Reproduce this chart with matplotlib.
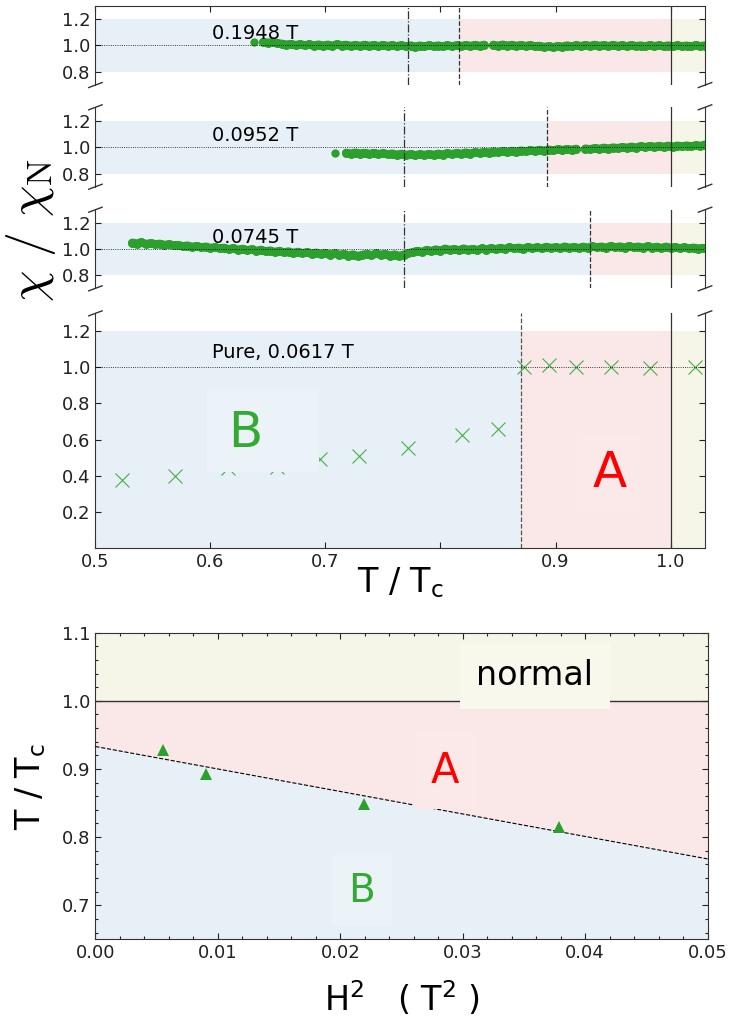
import numpy as np
import matplotlib
matplotlib.use('Agg')
from matplotlib import pyplot as plt
from matplotlib.patches import Rectangle
from matplotlib.ticker import MultipleLocator

# ---- susceptibility sweeps, chi/chi_N against T/Tc --------------------------
field_labels = ['0.1948 T', '0.0952 T', '0.0745 T']

# 0.1948 T sweep (temperature grid start/stop, values on that grid)
t_1948 = (0.646, 1.030)
chi_1948 = [1.026, 1.020, 1.024, 1.016, 1.012, 1.006, 1.010, 1.002, 1.008, 1.000,
            1.007, 0.999, 1.006, 0.998, 1.005, 0.997, 1.008, 0.999, 1.004, 0.996,
            1.003, 0.995, 1.004, 0.996, 1.002, 0.994, 1.003, 0.995, 1.001, 0.993,
            1.000, 0.992, 0.999, 0.991, 0.998, 0.992, 1.000, 0.993, 0.999, 0.992,
            1.001, 0.993, 1.000, 0.994, 1.002, 0.995, 1.003, 0.996, 1.004, np.nan,
            1.004, 0.997, 1.005, 0.998, 1.003, 0.996, 1.002, 0.995, 1.001, 0.993,
            0.996, 0.988, 0.993, 0.986, 0.995, 0.990, 0.999, 0.992, 1.001, 0.994,
            1.002, 0.995, 1.004, 0.996, 1.001, 0.994, 1.003, 0.995, 1.000, 0.993,
            1.002, 0.994, 0.999, 0.992, 1.001, 0.994, 1.000, 0.993, 0.999, 0.992,
            1.000, 0.993, 0.998, 0.992, 1.001, 0.994, 0.999]
first_1948 = (0.638, 1.025)

# 0.0952 T sweep
t_0952 = (0.718, 1.030)
chi_0952 = [0.956, 0.950, 0.958, 0.951, 0.955, 0.948, 0.954, 0.947, 0.952, 0.945,
            0.950, 0.942, 0.948, 0.940, 0.946, 0.938, 0.944, 0.940, 0.947, 0.941,
            0.949, 0.943, 0.952, 0.946, 0.955, 0.948, 0.958, 0.951, 0.960, 0.954,
            0.963, 0.957, 0.966, 0.960, 0.968, 0.962, 0.970, 0.965, 0.973, 0.967,
            0.975, 0.970, 0.978, 0.972, 0.980, 0.974, 0.982, 0.977, 0.984, 0.979,
            0.986, np.nan, 0.988, 0.983, 0.991, 0.986, 0.994, 0.988, 0.996, 0.991,
            0.999, 0.994, 1.002, 0.996, 1.005, 0.999, 1.007, 1.001, 1.008, 1.002,
            1.009, 1.003, 1.010, 1.004, 1.011, 1.005, 1.012, 1.008, 1.018]
first_0952 = (0.7085, 0.952)

# 0.0745 T sweep
t_0745 = (0.532, 1.028)
chi_0745 = [1.048, 1.042, 1.050, 1.038, 1.044, 1.036, 1.040, 1.031, 1.035, 1.027,
            1.030, 1.021, 1.026, 1.017, 1.022, 1.012, 1.018, 1.008, 1.013, 1.004,
            1.009, 0.998, 1.006, 0.994, 1.001, 0.990, 0.997, 0.986, 0.993, 0.982,
            0.988, 0.977, 0.985, 0.974, 0.981, 0.970, 0.978, 0.968, 0.975, 0.965,
            0.972, 0.962, 0.969, 0.958, 0.966, 0.955, 0.962, 0.950, 0.958, 0.946,
            0.955, 0.962, 0.952, 0.966, 0.956, 0.962, 0.950, 0.958, 0.948, 0.956,
            0.968, 0.976, 0.985, 0.978, 0.992, 0.984, 0.996, 0.988, 1.002, 0.993,
            0.999, 0.990, 1.003, 0.994, 1.000, 0.992, 1.004, 0.996, 1.006, 0.998,
            1.008, 1.001, 1.012, 1.004, 1.010, 1.002, 1.014, 1.006, 1.012, 1.005,
            1.016, 1.008, 1.013, 1.006, 1.018, 1.009, 1.015, 1.007, 1.017, 1.010,
            1.020, 1.012, 1.018, 1.010, 1.022, 1.013, 1.019, 1.011, 1.021, 1.012,
            1.018, 1.010, 1.020, 1.011, 1.016, 1.008, 1.017, 1.009, 1.014, 1.006,
            1.012, 1.004, 1.010, 1.003, 1.008]

# transitions seen in each sweep (dash-dot / A-B boundary)
t_dashdot = [0.772, 0.768, 0.768]
t_ab = [0.816, 0.893, 0.930]

# pure sample, 0.0617 T
pure_t = [0.5235, 0.569, 0.615, 0.658, 0.695, 0.729, 0.772, 0.819, 0.850,
          0.873, 0.894, 0.918, 0.948, 0.982, 1.021]
pure_chi = [0.378, 0.396, 0.44, 0.45, 0.49, 0.51, 0.555, 0.623, 0.656,
            1.002, 1.013, 1.0, 1.0, 0.998, 1.0]
pure_ab = 0.870

# ---- phase diagram ---------------------------------------------------------
h2 = [0.00555, 0.00906, 0.0219, 0.0379]
tab_h2 = [0.928, 0.893, 0.848, 0.815]
fit_h2 = [0.0, 0.05]
fit_t = [0.933, 0.768]

blue = '#e8f0f7'
red = '#fae7e7'
yellow = '#f6f6e8'
blue_box = '#ebf2f8'
red_box = '#fbe9e9'
yellow_box = '#f8f8ec'
green = '#2ca02c'
line_c = '#333333'

plt.rcParams['font.family'] = 'DejaVu Sans'
fig = plt.figure(figsize=(7.3, 10.21), dpi=100)

L, W = 0.1307, 0.8351
ax1 = fig.add_axes([L, 0.9167, W, 0.0777])
ax2 = fig.add_axes([L, 0.8171, W, 0.0778])
ax3 = fig.add_axes([L, 0.7176, W, 0.0770])
ax4 = fig.add_axes([L, 0.4636, W, 0.2295])
ax5 = fig.add_axes([L, 0.0800, 0.8386, 0.3003])
panels = [ax1, ax2, ax3, ax4]


def shade(ax, ta, lo, hi):
    ax.fill_between([0.5, ta], lo, hi, color=blue, lw=0, zorder=0)
    ax.fill_between([ta, 1.0], lo, hi, color=red, lw=0, zorder=0)
    ax.fill_between([1.0, 1.03], lo, hi, color=yellow, lw=0, zorder=0)


def breaks(ax, top, bottom):
    h = ax.get_position().height * fig.get_figheight() * fig.dpi
    dx, dy = 0.011, 2.5 / h
    kw = dict(transform=ax.transAxes, color=line_c, lw=1, clip_on=False)
    if bottom:
        ax.plot((-dx, dx), (-dy, dy), **kw)
        ax.plot((1 - dx, 1 + dx), (-dy, dy), **kw)
    if top:
        ax.plot((-dx, dx), (1 - dy, 1 + dy), **kw)
        ax.plot((1 - dx, 1 + dx), (1 - dy, 1 + dy), **kw)


sweeps = [(t_1948, chi_1948, first_1948),
          (t_0952, chi_0952, first_0952),
          (t_0745, chi_0745, None)]

for i, ax in enumerate(panels[:3]):
    (t0, t1), chi, first = sweeps[i]
    t = np.linspace(t0, t1, len(chi))
    shade(ax, t_ab[i], 0.8, 1.2)
    # dense sweep: solid core plus the individual readings round it
    ax.plot(t, chi, '-', color=green, lw=6, solid_capstyle='round', zorder=2)
    ax.plot(t, chi, 'o', color=green, ms=6.5, mew=0, zorder=2)
    if first is not None:
        ax.plot(*first, 'o', color=green, ms=6, mew=0, zorder=2)
    ax.axhline(1.0, color='k', ls=':', lw=0.6, zorder=4)
    ax.axvline(t_dashdot[i], color=line_c, ls='-.', lw=0.9, zorder=3)
    ax.axvline(t_ab[i], color=line_c, ls='--', lw=0.9, zorder=3)
    ax.axvline(1.0, color=line_c, ls='-', lw=0.9, zorder=3)
    ax.text(0.601, 1.045, field_labels[i], fontsize=14, va='baseline', zorder=5)
    ax.set_ylim(0.7, 1.3)
    ax.set_yticks([0.8, 1.0, 1.2])
    ax.spines['bottom'].set_visible(False)
    if i > 0:
        ax.spines['top'].set_visible(False)
        ax.tick_params(axis='x', which='both', top=False, bottom=False,
                       labelbottom=False)
    else:
        ax.tick_params(axis='x', which='both', top=True, bottom=False,
                       labelbottom=False)
    breaks(ax, top=(i > 0), bottom=True)

# pure sample
shade(ax4, pure_ab, 0.0, 1.2)
ax4.plot(pure_t, pure_chi, 'x', color='#44b044', ms=10, mew=0.8, zorder=2)
ax4.axhline(1.0, color='k', ls=':', lw=0.6, zorder=4)
ax4.axvline(pure_ab, color='#555555', ls='--', lw=0.9, zorder=3)
ax4.axvline(1.0, color=line_c, ls='-', lw=0.9, zorder=3)
ax4.text(0.601, 1.05, 'Pure, 0.0617 T', fontsize=14, va='baseline', zorder=5)
ax4.add_patch(Rectangle((0.597, 0.42), 0.097, 0.46, facecolor=blue_box,
                        edgecolor='none', zorder=3))
ax4.text(0.630, 0.558, 'B', fontsize=36, color='#33aa33', ha='center',
         va='baseline', zorder=5)
ax4.text(0.947, 0.335, 'A', fontsize=36, color='red', ha='center',
         va='baseline', zorder=5,
         bbox=dict(facecolor=red_box, edgecolor='none', pad=10))
ax4.set_ylim(0.0, 1.3)
ax4.set_yticks([0.2, 0.4, 0.6, 0.8, 1.0, 1.2])
ax4.spines['top'].set_visible(False)
ax4.set_xticks([0.5, 0.6, 0.7, 0.8, 0.9, 1.0])
ax4.set_xticklabels(['0.5', '0.6', '0.7', '', '0.9', '1.0'])
ax4.tick_params(axis='x', top=False)
ax4.set_xlabel(r'T / T$_\mathrm{c}$', fontsize=24, labelpad=-4)
breaks(ax4, top=True, bottom=False)

for ax in panels:
    ax.set_xlim(0.5, 1.03)
    ax.tick_params(direction='in', right=True, length=4.5, width=0.8,
                   labelsize=13, colors='#222222')
    for s in ax.spines.values():
        s.set_color(line_c)

fig.text(0.042, 0.775, r'$\chi\ /\ \chi_{\mathrm{N}}$', rotation=90,
         fontsize=36, ha='center', va='center', math_fontfamily='cm')

# ---- phase diagram ---------------------------------------------------------
xs = np.array(fit_h2)
ys = np.array(fit_t)
ax5.fill_between(xs, 0.65, ys, color=blue, lw=0, zorder=0)
ax5.fill_between(xs, ys, 1.0, color=red, lw=0, zorder=0)
ax5.fill_between(xs, 1.0, 1.1, color=yellow, lw=0, zorder=0)
ax5.plot(xs, ys, color='k', ls='--', lw=0.8, zorder=3)
ax5.axhline(1.0, color=line_c, lw=1.0, zorder=3)
ax5.plot(h2, tab_h2, '^', color=green, ms=9, mew=0, zorder=4)

ax5.text(0.0359, 1.0226, 'normal', fontsize=24, ha='center', va='baseline',
         bbox=dict(facecolor=yellow_box, edgecolor='none', pad=12))
ax5.text(0.02855, 0.8795, 'A', fontsize=30, color='red', ha='center',
         va='baseline', bbox=dict(facecolor=red_box, edgecolor='none', pad=12))
ax5.text(0.02175, 0.7053, 'B', fontsize=28, color='#33aa33', ha='center',
         va='baseline', bbox=dict(facecolor=blue_box, edgecolor='none', pad=12))

ax5.set_xlim(0, 0.05)
ax5.set_ylim(0.65, 1.1)
ax5.xaxis.set_major_locator(MultipleLocator(0.01))
ax5.xaxis.set_minor_locator(MultipleLocator(0.002))
ax5.yaxis.set_major_locator(MultipleLocator(0.1))
ax5.yaxis.set_minor_locator(MultipleLocator(0.02))
ax5.xaxis.set_major_formatter(lambda v, p: f'{v:.2f}')
ax5.yaxis.set_major_formatter(lambda v, p: f'{v:.1f}')
ax5.tick_params(which='both', direction='in', top=True, right=True,
                width=0.8, labelsize=13, colors='#222222')
ax5.tick_params(which='major', length=4.5)
ax5.tick_params(which='minor', length=2.5)
for s in ax5.spines.values():
    s.set_color(line_c)
ax5.set_xlabel(r'H$^2$   ( T$^2$ )', fontsize=24, labelpad=12)
ax5.set_ylabel(r'T / T$_\mathrm{c}$', fontsize=24, labelpad=10)

fig.savefig('out.png', dpi=100)
